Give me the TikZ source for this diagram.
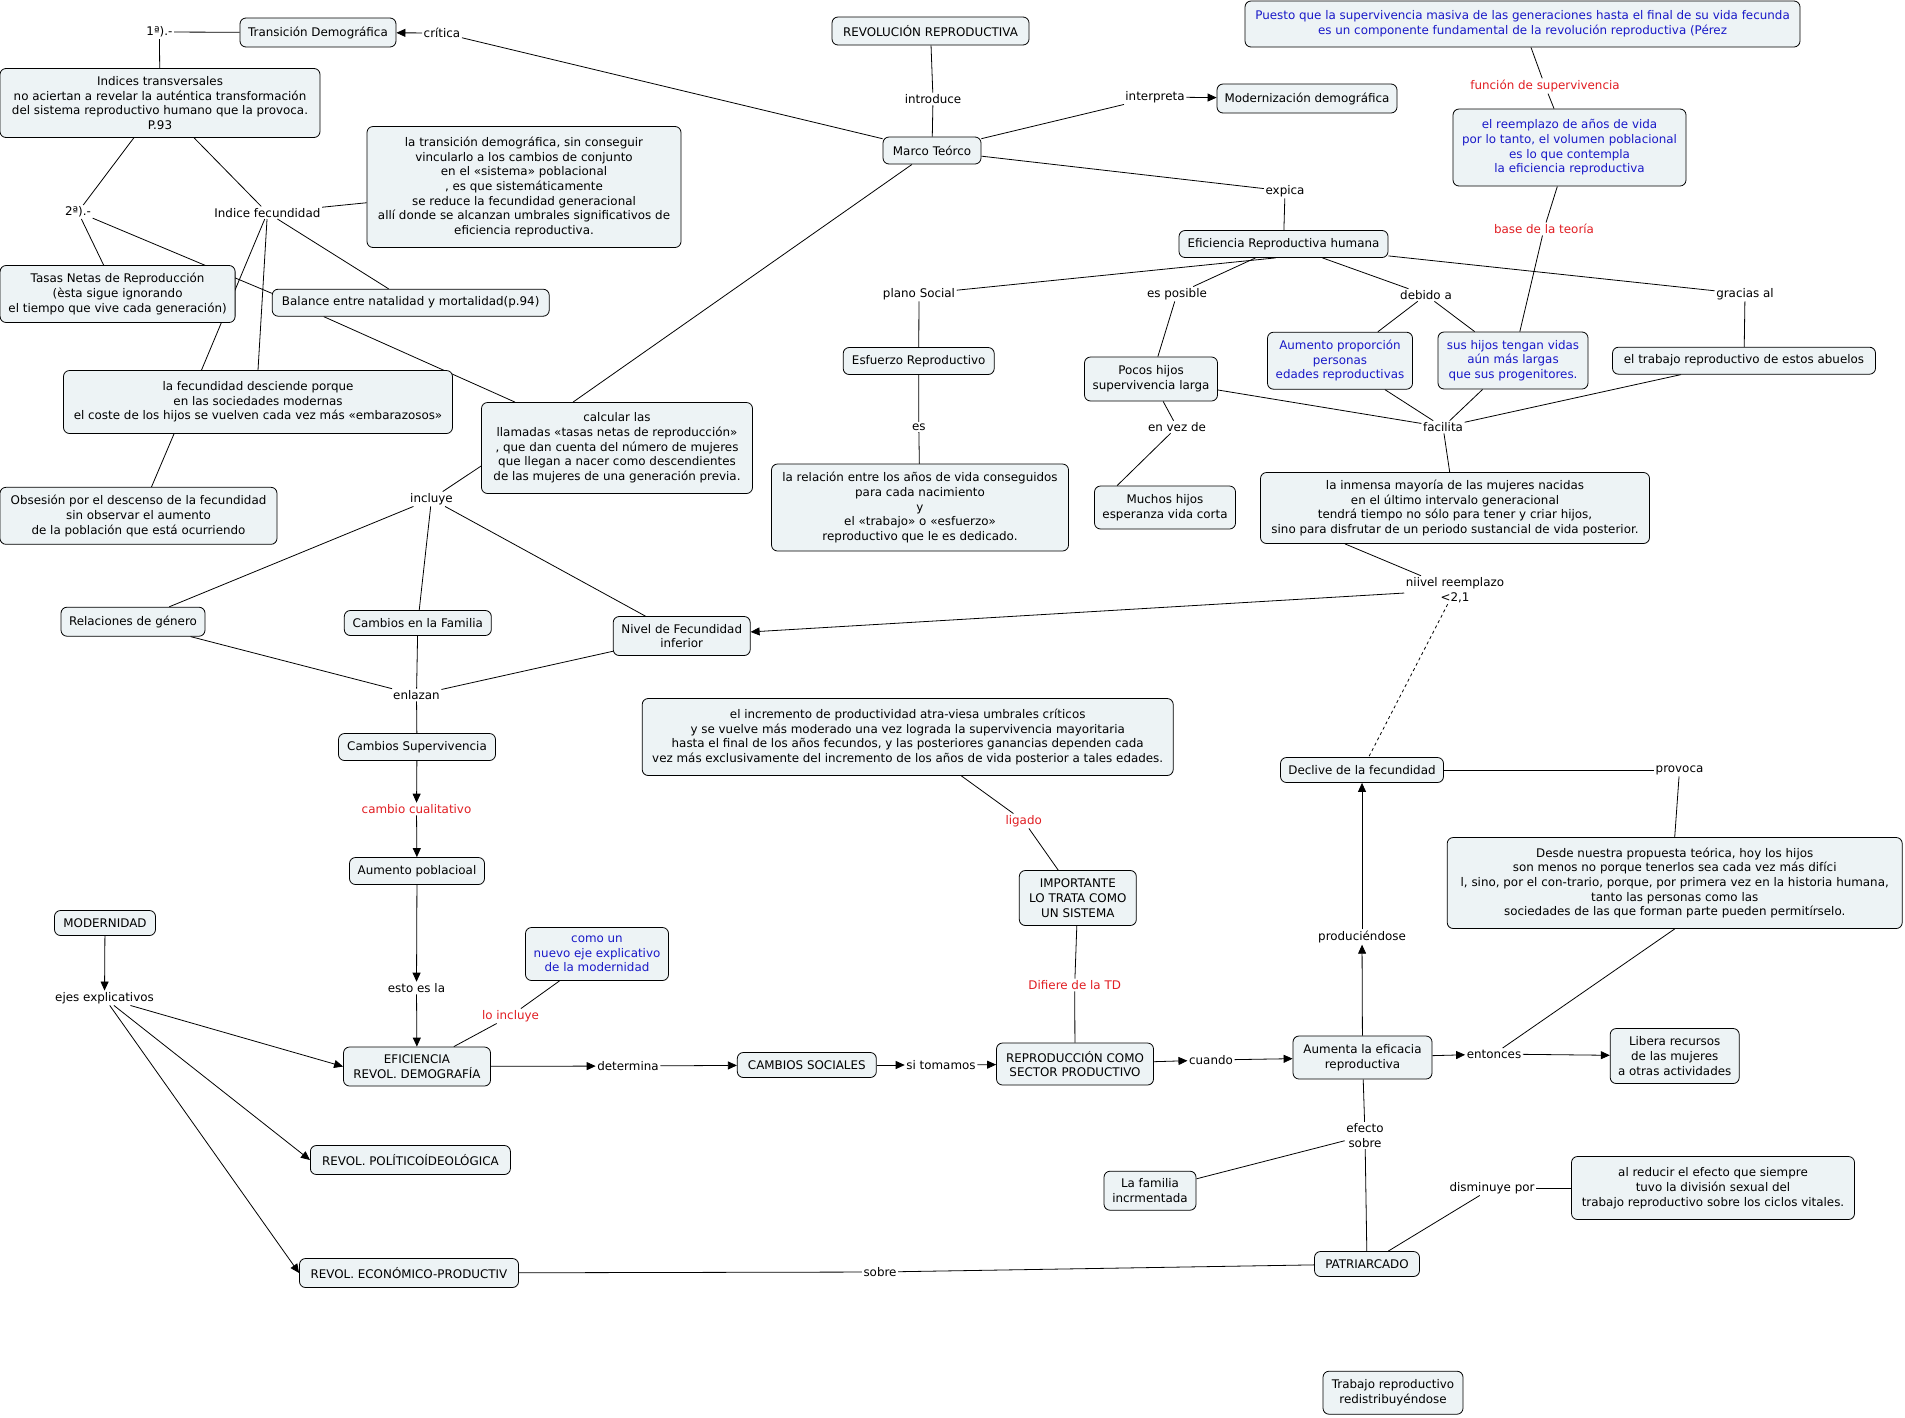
\documentclass[tikz,border=0pt]{standalone}
\usepackage{fontspec}
\setmainfont{DejaVu Sans}
\usetikzlibrary{arrows.meta,backgrounds}
\definecolor{boxfill}{RGB}{237,243,245}
\definecolor{bluetxt}{RGB}{25,25,200}
\definecolor{redtxt}{RGB}{225,30,35}
\begin{document}
\begin{tikzpicture}[x=1pt,y=-1pt,
  font=\fontsize{11.9}{14.7}\selectfont,
  bx/.style={draw, line width=0.8pt, rounded corners=6pt, fill=boxfill, align=center, inner xsep=3pt, inner ysep=2pt},
  lb/.style={inner sep=1.5pt, align=center},
  ln/.style={line width=0.8pt},
  ar/.style={line width=0.8pt, -{Triangle[length=9pt,width=8pt]}},
  bt/.style={text=bluetxt},
  rt/.style={text=redtxt}]
\useasboundingbox (0,0) rectangle (1905,1417);
% ---- boxes
\node[bx, minimum width=156pt, minimum height=29pt] (TD) at (318,32.5) {Transición Demográfica};
\node[lb] (onea) at (159.4,32) {1ª).-};
\node[lb] (critica) at (442,33) {crítica};
\node[bx, minimum width=320pt, minimum height=69pt] (Ind) at (160,103) {Indices transversales\\no aciertan a revelar la auténtica transformación\\del sistema reproductivo humano que la provoca.\\P.93};
\node[lb] (twoa) at (78,212) {2ª).-};
\node[lb] (indfec) at (267.4,212.7) {Indice fecundidad};
\node[bx, minimum width=314pt, minimum height=121pt] (BIG) at (524,187) {la transición demográfica, sin conseguir\\vincularlo a los cambios de conjunto\\en el «sistema» poblacional\\, es que sistemáticamente\\se reduce la fecundidad generacional\\allí donde se alcanzan umbrales significativos de\\eficiencia reproductiva.};
\node[bx, minimum width=235pt, minimum height=57pt] (TN) at (117.6,294) {Tasas Netas de Reproducción\\(èsta sigue ignorando\\el tiempo que vive cada generación)};
\node[bx, minimum width=277pt, minimum height=27pt] (BAL) at (410.7,302.7) {Balance entre natalidad y mortalidad(p.94)};
\node[bx, minimum width=389pt, minimum height=63pt] (FD) at (258,402) {la fecundidad desciende porque\\en las sociedades modernas\\el coste de los hijos se vuelven cada vez más «embarazosos»};
\node[bx, minimum width=277pt, minimum height=57pt] (OB) at (138.5,515.8) {Obsesión por el descenso de la fecundidad\\sin observar el aumento\\de la población que está ocurriendo};
\node[bx, minimum width=271pt, minimum height=91pt] (CL) at (617,448) {calcular las\\llamadas «tasas netas de reproducción»\\, que dan cuenta del número de mujeres\\que llegan a nacer como descendientes\\de las mujeres de una generación previa.};
\node[lb] (incluye) at (431.5,499) {incluye};
\node[bx, minimum width=144pt, minimum height=29pt] (RG) at (133,621.7) {Relaciones de género};
\node[bx, minimum width=147pt, minimum height=25pt] (CF) at (417.8,623) {Cambios en la Familia};
\node[bx, minimum width=137pt, minimum height=39pt] (NF) at (681.7,636) {Nivel de Fecundidad\\inferior};
\node[lb] (enlazan) at (416.5,695) {enlazan};
\node[bx, minimum width=157pt, minimum height=27pt] (CS) at (417,747) {Cambios Supervivencia};
\node[lb, rt] (cambio) at (416.5,809) {cambio cualitativo};
\node[bx, minimum width=135pt, minimum height=27pt] (AP2) at (417,871) {Aumento poblacioal};
\node[lb] (esto) at (416.5,988) {esto es la};
\node[bx, minimum width=101pt, minimum height=25pt] (MOD) at (105,923) {MODERNIDAD};
\node[lb] (ejes) at (104.5,998) {ejes explicativos};
\node[bx, bt, minimum width=143pt, minimum height=53pt] (COMO) at (597,954) {como un\\nuevo eje explicativo\\de la modernidad};
\node[lb, rt] (loincluye) at (510.5,1016) {lo incluye};
\node[bx, minimum width=147pt, minimum height=39pt] (EF) at (417,1066.5) {EFICIENCIA\\REVOL. DEMOGRAFÍA};
\node[bx, minimum width=200pt, minimum height=29pt] (POL) at (410.4,1160) {REVOL. POLÍTICOÍDEOLÓGICA};
\node[bx, minimum width=219pt, minimum height=29pt] (ECO) at (409,1273) {REVOL. ECONÓMICO-PRODUCTIV};
\node[lb] (sobre) at (880,1272) {sobre};
\node[lb] (determina) at (628,1066) {determina};
\node[bx, minimum width=139pt, minimum height=25pt] (CSOC) at (806.8,1065) {CAMBIOS SOCIALES};
\node[lb] (sitomamos) at (941,1065) {si tomamos};
\node[bx, minimum width=157pt, minimum height=42pt] (REP) at (1075,1064) {REPRODUCCIÓN COMO\\SECTOR PRODUCTIVO};
\node[lb] (cuando) at (1211,1060) {cuando};
\node[bx, minimum width=139pt, minimum height=43pt] (ALE) at (1362.5,1057.5) {Aumenta la eficacia\\reproductiva};
\node[lb] (entonces) at (1494,1054) {entonces};
\node[bx, minimum width=129pt, minimum height=55pt] (LIB) at (1674.7,1056) {Libera recursos\\de las mujeres\\a otras actividades};
\node[bx, minimum width=455pt, minimum height=91pt] (DES) at (1674.7,883) {Desde nuestra propuesta teórica, hoy los hijos\\son menos no porque tenerlos sea cada vez más difíci\\l, sino, por el con-trario, porque, por primera vez en la historia humana,\\tanto las personas como las\\sociedades de las que forman parte pueden permitírselo.};
\node[lb] (provoca) at (1679.5,770) {provoca};
\node[bx, minimum width=163pt, minimum height=25pt] (DEC) at (1362,770) {Declive de la fecundidad};
\node[lb] (produc) at (1362,937) {produciéndose};
\node[bx, minimum width=531pt, minimum height=77pt] (INC) at (907.7,737) {el incremento de productividad atra-viesa umbrales críticos\\y se vuelve más moderado una vez lograda la supervivencia mayoritaria\\hasta el final de los años fecundos, y las posteriores ganancias dependen cada\\vez más exclusivamente del incremento de los años de vida posterior a tales edades.};
\node[lb, rt] (ligado) at (1023.7,821) {ligado};
\node[bx, minimum width=117pt, minimum height=55pt] (IMP) at (1077.8,898) {IMPORTANTE\\LO TRATA COMO\\UN SISTEMA};
\node[lb, rt] (difiere) at (1074.7,985) {Difiere de la TD};
\node[lb] (efecto) at (1365,1135.5) {efecto\\sobre};
\node[bx, minimum width=92pt, minimum height=39pt] (LF) at (1150,1190.7) {La familia\\incrmentada};
\node[bx, minimum width=105pt, minimum height=25pt] (PAT) at (1367,1264) {PATRIARCADO};
\node[lb] (disminuye) at (1492,1188) {disminuye por};
\node[bx, minimum width=283pt, minimum height=63pt] (AL) at (1713,1188) {al reducir el efecto que siempre\\tuvo la división sexual del\\trabajo reproductivo sobre los ciclos vitales.};
\node[bx, minimum width=140pt, minimum height=43pt] (TR) at (1393,1392.7) {Trabajo reproductivo\\redistribuyéndose};
\node[lb] (niivel) at (1455,590) {niivel reemplazo\\<2,1};
\node[bx, minimum width=389pt, minimum height=71pt] (LIM) at (1455,508) {la inmensa mayoría de las mujeres nacidas\\en el último intervalo generacional\\tendrá tiempo no sólo para tener y criar hijos,\\sino para disfrutar de un periodo sustancial de vida posterior.};
\node[lb] (facilita) at (1443,427) {facilita};
\node[bx, minimum width=133pt, minimum height=44pt] (Pocos) at (1151,379) {Pocos hijos\\supervivencia larga};
\node[lb] (envez) at (1177,427) {en vez de};
\node[bx, minimum width=141pt, minimum height=43pt] (Muchos) at (1165,507.5) {Muchos hijos\\esperanza vida corta};
\node[bx, bt, minimum width=145pt, minimum height=57pt] (AP) at (1340,360.7) {Aumento proporción\\personas\\edades reproductivas};
\node[bx, bt, minimum width=150pt, minimum height=57pt] (SH) at (1513,360.5) {sus hijos tengan vidas\\aún más largas\\que sus progenitores.};
\node[bx, minimum width=263pt, minimum height=27pt] (TA) at (1744,360.7) {el trabajo reproductivo de estos abuelos};
\node[lb] (gracias) at (1745,294) {gracias al};
\node[lb] (debido) at (1426,295) {debido a};
\node[lb] (esposible) at (1177,294) {es posible};
\node[lb] (plano) at (919,294) {plano Social};
\node[bx, minimum width=151pt, minimum height=27pt] (ESF) at (918.7,361) {Esfuerzo Reproductivo};
\node[lb] (es) at (918.8,427) {es};
\node[bx, minimum width=297pt, minimum height=87pt] (ER) at (920,507.5) {la relación entre los años de vida conseguidos\\para cada nacimiento\\y\\el «trabajo» o «esfuerzo»\\reproductivo que le es dedicado.};
\node[lb] (expica) at (1285,191) {expica};
\node[bx, minimum width=209pt, minimum height=27pt] (ERH) at (1283.5,244) {Eficiencia Reproductiva humana};
\node[bx, bt, minimum width=233pt, minimum height=77pt] (reemplazo) at (1569.5,147.5) {el reemplazo de años de vida\\por lo tanto, el volumen poblacional\\es lo que contempla\\la eficiencia reproductiva};
\node[lb, rt] (base) at (1544,229) {base de la teoría};
\node[lb, rt] (funcion) at (1545,86) {función de supervivencia};
\node[bx, bt, minimum width=555pt, minimum height=46pt] (Puesto) at (1522.5,24) {Puesto que la supervivencia masiva de las generaciones hasta el final de su vida fecunda\\es un componente fundamental de la revolución reproductiva (Pérez};
\node[bx, minimum width=180pt, minimum height=29pt] (MD) at (1307,98.5) {Modernización demográfica};
\node[lb] (interpreta) at (1155,97) {interpreta};
\node[bx, minimum width=197pt, minimum height=28pt] (RR) at (930.5,31) {REVOLUCIÓN REPRODUCTIVA};
\node[lb] (introduce) at (933,99) {introduce};
\node[bx, minimum width=98pt, minimum height=27pt] (MT) at (932,150.5) {Marco Teórco};
% ---- connectors
\begin{pgfonlayer}{background}
\fill[white] (0,0) rectangle (1905,1417);
\draw[ln] (onea) -- (TD);
\draw[ln] (onea) -- (Ind);
\draw[ar] (critica) -- (TD);
\draw[ln] (critica) -- (MT);
\draw[ln] (RR) -- (introduce);
\draw[ln] (introduce) -- (MT);
\draw[ln] (MT) -- (interpreta);
\draw[ar] (interpreta) -- (MD);
\draw[ln] (MT) -- (expica);
\draw[ln] (expica) -- (ERH);
\draw[ln] (Puesto) -- (funcion);
\draw[ln] (funcion) -- (reemplazo);
\draw[ln] (reemplazo) -- (base);
\draw[ln] (base) -- (SH);
\draw[ln] ([xshift=-8pt]ERH.south) -- (plano);
\draw[ln] (plano) -- (ESF);
\draw[ln] (ESF) -- (es);
\draw[ln] (es) -- (ER);
\draw[ln] ([xshift=-28pt]ERH.south) -- (esposible);
\draw[ln] (esposible) -- (Pocos);
\draw[ln] ([xshift=39pt]ERH.south) -- (debido);
\draw[ln] (debido) -- (AP);
\draw[ln] (debido) -- (SH);
\draw[ln] ([yshift=2pt]ERH.south east) -- (gracias);
\draw[ln] (gracias) -- (TA);
\draw[ln] (Pocos) -- (envez);
\draw[ln] (envez) -- ([xshift=23pt]Muchos.north west);
\draw[ln] (Pocos) -- (facilita);
\draw[ln] (AP) -- (facilita);
\draw[ln] (SH) -- (facilita);
\draw[ln] (TA) -- (facilita);
\draw[ln] (facilita) -- (LIM);
\draw[ln] ([xshift=-110pt]LIM.south) -- (niivel);
\draw[ar] (niivel) -- (NF);
\draw[ln, dashed] (niivel) -- (DEC);
\draw[ln] ([xshift=-20pt]MT.south) -- ([xshift=-44pt]CL.north);
\draw[ln] ([xshift=-87pt]BAL.south) -- ([xshift=-102pt]CL.north);
\draw[ln] ([yshift=-18pt]CL.west) -- (incluye);
\draw[ln] (incluye) -- (RG);
\draw[ln] (incluye) -- (CF);
\draw[ln] (incluye) -- (NF);
\draw[ln] (RG) -- (enlazan);
\draw[ln] (CF) -- (enlazan);
\draw[ln] (NF) -- (enlazan);
\draw[ln] (enlazan) -- (CS);
\draw[ar] (CS) -- (cambio);
\draw[ar] (cambio) -- (AP2);
\draw[ar] (AP2) -- (esto);
\draw[ar] (esto) -- (EF);
\draw[ar] (MOD) -- (ejes);
\draw[ar] (ejes) -- (EF.west);
\draw[ar] (ejes) -- (POL.west);
\draw[ar] (ejes) -- (ECO.west);
\draw[ln] (COMO) -- (loincluye);
\draw[ln] (loincluye) -- (EF);
\draw[ar] (EF) -- (determina);
\draw[ar] (determina) -- (CSOC);
\draw[ar] (CSOC) -- (sitomamos);
\draw[ar] (sitomamos) -- (REP);
\draw[ar] (REP) -- (cuando);
\draw[ar] (cuando) -- (ALE);
\draw[ar] (ALE) -- (entonces);
\draw[ar] (entonces) -- (LIB);
\draw[ln] (entonces) -- (DES.south);
\draw[ar] (ALE) -- (produc);
\draw[ar] (produc) -- (DEC);
\draw[ln] (DEC) -- (provoca);
\draw[ln] (provoca) -- (DES.north);
\draw[ln] (INC) -- (ligado);
\draw[ln] (ligado) -- (IMP);
\draw[ln] (IMP) -- (difiere);
\draw[ln] (difiere) -- (REP);
\draw[ln] (ALE) -- (efecto);
\draw[ln] (efecto) -- (LF);
\draw[ln] (efecto) -- (PAT);
\draw[ln] (PAT) -- (disminuye);
\draw[ln] (disminuye) -- (AL);
\draw[ln] (ECO) -- (sobre);
\draw[ln] (sobre) -- (PAT);
\draw[ln] (Ind) -- (twoa);
\draw[ln] (Ind) -- (indfec);
\draw[ln] (twoa) -- (TN);
\draw[ln] (twoa) -- ([yshift=9.4pt]BAL.west);
\draw[ln] (indfec) -- (BIG);
\draw[ln] (indfec) -- ([xshift=-56.5pt]FD.north);
\draw[ln] (indfec) -- (FD.north);
\draw[ln] (indfec) -- (BAL);
\draw[ln] ([xshift=-84pt]FD.south) -- ([xshift=13pt]OB.north);
\end{pgfonlayer}
\end{tikzpicture}
\end{document}
